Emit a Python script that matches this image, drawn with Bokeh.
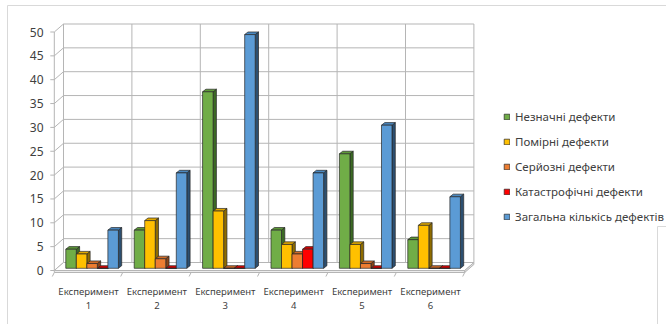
from bokeh.plotting import figure
from bokeh.models import Range1d, Legend, LegendItem
from bokeh.core.properties import value
from bokeh.embed import file_html
from bokeh.resources import INLINE

# ---- data -------------------------------------------------------------
categories = ["Експеримент\n1", "Експеримент\n2", "Експеримент\n3",
              "Експеримент\n4", "Експеримент\n5", "Експеримент\n6"]
series_names = ["Незначні дефекти", "Помірні дефекти", "Серйозні дефекти",
                "Катастрофічні дефекти", "Загальна кількісь дефектів"]
minor = [4, 8, 37, 8, 24, 6]
moderate = [3, 10, 12, 5, 5, 9]
serious = [1, 2, 0, 3, 1, 0]
catastrophic = [0, 0, 0, 4, 0, 0]
total = [8, 20, 49, 20, 30, 15]
y_ticks = [0, 5, 10, 15, 20, 25, 30, 35, 40, 45, 50]

series_values = [minor, moderate, serious, catastrophic, total]
front_colors = ["#70AD47", "#FFC000", "#ED7D31", "#FF0000", "#5B9BD5"]
top_colors = ["#5E9A38", "#E0A800", "#CF6A26", "#D90000", "#4A88C0"]
side_colors = ["#3C6A24", "#8F6C00", "#8A4418", "#8C0000", "#2C4F70"]

# ---- geometry (pixels) ------------------------------------------------
W, H = 666, 324
X0, XU = 53.8, 68.4      # left edge of the floor front, px per category
Y0, YU = 270.0, 4.77     # baseline of the front axis, px per unit
WALL_DX, WALL_DY = 9.2, 8.0
BAR_DX, BAR_DY = 3.3, 2.6
MID_DX, MID_DY = 3.6, 2.2
GAP = 1.5


def hx(px):
    return px / XU


def hy(px):
    return px / YU


def ax(px):
    return (px - X0) / XU


def ay(py):
    return (Y0 - py) / YU


n_cat = len(categories)
p = figure(width=W, height=H,
           x_range=Range1d(ax(0), ax(W)), y_range=Range1d(ay(H), ay(0)),
           output_backend="svg", toolbar_location=None,
           x_axis_location=None, y_axis_location=None,
           min_border=0, outline_line_color=None,
           background_fill_color="white", border_fill_color="white")
p.grid.visible = False

grid_col = "#b5b5b5"
frame_col = "#d9d9d9"

# outer chart border
p.multi_line(xs=[[ax(7), ax(W)], [ax(7), ax(7)], [ax(657), ax(W)], [ax(657), ax(657)]],
             ys=[[ay(5), ay(5)], [ay(5), ay(H)], [ay(226), ay(226)], [ay(226), ay(H)]],
             line_color=frame_col, line_width=1)

# back wall
top_v = y_ticks[-1]
bx, by = hx(WALL_DX), hy(WALL_DY)
p.multi_line(xs=[[bx, n_cat + bx] for v in y_ticks],
             ys=[[v + by, v + by] for v in y_ticks],
             line_color=grid_col, line_width=1)
p.multi_line(xs=[[k + bx, k + bx] for k in range(n_cat + 1)],
             ys=[[by, top_v + by] for k in range(n_cat + 1)],
             line_color=grid_col, line_width=1)
# side wall
p.multi_line(xs=[[0, bx] for v in y_ticks], ys=[[v, v + by] for v in y_ticks],
             line_color=grid_col, line_width=1)
p.line(x=[0, 0], y=[0, top_v], line_color=grid_col, line_width=1)
# axis ticks
p.multi_line(xs=[[-hx(4), 0] for v in y_ticks], ys=[[v, v] for v in y_ticks],
             line_color=grid_col, line_width=1)
# floor slab
slab = hy(2)
p.patch(x=[0, n_cat, n_cat + bx, bx], y=[0, 0, by, by],
        fill_color="white", line_color=grid_col, line_width=1)
p.patch(x=[0, n_cat, n_cat, 0], y=[0, 0, -slab, -slab],
        fill_color="#ececec", line_color=grid_col, line_width=1)
p.patch(x=[n_cat, n_cat + bx, n_cat + bx, n_cat], y=[0, by, by - slab, -slab],
        fill_color="#e0e0e0", line_color=grid_col, line_width=1)
p.multi_line(xs=[[k, k - hx(2)] for k in range(n_cat + 1)],
             ys=[[-slab, -slab - hy(4)] for k in range(n_cat + 1)],
             line_color=grid_col, line_width=1)

# ---- 3-D columns ------------------------------------------------------
step = 1.0 / (len(series_values) + GAP)
ddx, ddy = hx(BAR_DX), hy(BAR_DY)
base = hy(MID_DY)
side_xs, side_ys, side_c = [], [], []
top_xs, top_ys, top_c = [], [], []
fronts = []
for s, vals in enumerate(series_values):
    lefts, rights, tops = [], [], []
    for i, v in enumerate(vals):
        left = i + GAP / 2 * step + s * step + hx(MID_DX)
        right = left + step
        t = base + v
        side_xs.append([right, right + ddx, right + ddx, right])
        side_ys.append([base, base + ddy, t + ddy, t])
        side_c.append(side_colors[s])
        top_xs.append([left, right, right + ddx, left + ddx])
        top_ys.append([t, t, t + ddy, t + ddy])
        top_c.append(top_colors[s])
        lefts.append(left)
        rights.append(right)
        tops.append(t)
    fronts.append((lefts, rights, tops))

edge = "#262626"
p.patches(xs=side_xs, ys=side_ys, fill_color=side_c, line_color=edge, line_width=0.7)
p.patches(xs=top_xs, ys=top_ys, fill_color=top_c, line_color=edge, line_width=0.7)

items = []
for s, (lefts, rights, tops) in enumerate(fronts):
    r = p.quad(left=lefts, right=rights, bottom=[base] * n_cat, top=tops,
               fill_color=front_colors[s], line_color=edge, line_width=0.7)
    items.append(LegendItem(label=series_names[s], renderers=[r]))

# ---- labels -----------------------------------------------------------
text_col = "#404040"
p.text(x=[ax(43)] * len(y_ticks), y=y_ticks, text=[str(v) for v in y_ticks],
       text_align="right", text_baseline="middle",
       text_font=value("Noto Sans"), text_font_size="12px", text_color=text_col)
p.text(x=[i + 0.5 for i in range(n_cat)], y=[ay(284)] * n_cat, text=categories,
       text_align="center", text_baseline="top", text_line_height=1.15,
       text_font=value("Noto Sans"), text_font_size="9.5px", text_color=text_col)

# legend box: location is its lower-left corner, measured from the bottom
legend = Legend(items=items, location=(503, 100.5),
                glyph_width=7, glyph_height=7, label_standoff=5,
                label_height=15, spacing=10, padding=0, margin=0,
                border_line_color=None, background_fill_alpha=0,
                label_text_font="Noto Sans", label_text_font_size="11.5px",
                label_text_color=text_col)
p.add_layout(legend)

open("out.html", "w").write(file_html(p, INLINE))
